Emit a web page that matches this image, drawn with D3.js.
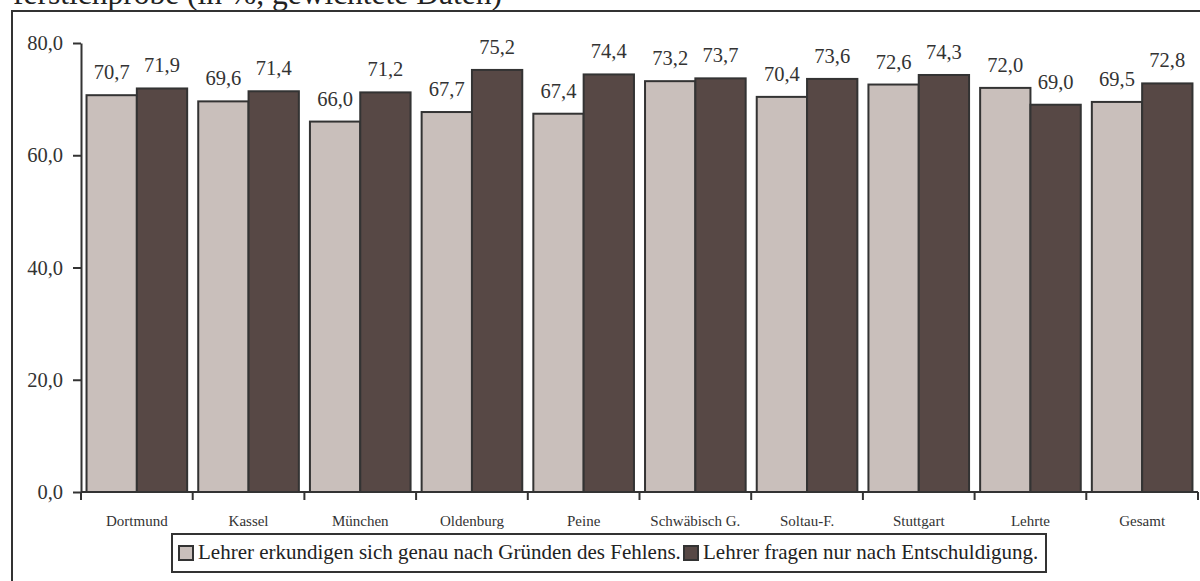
<!DOCTYPE html>
<html><head><meta charset="utf-8">
<script src="https://cdn.jsdelivr.net/npm/d3@7"></script>
<style>body{margin:0;background:#fff;} svg{display:block;}</style>
</head><body>
<svg id="c" width="1200" height="581"></svg>
<script>
const categories = ["Dortmund","Kassel","München","Oldenburg","Peine","Schwäbisch G.","Soltau-F.","Stuttgart","Lehrte","Gesamt"];
const seriesNames = ["Lehrer erkundigen sich genau nach Gründen des Fehlens.","Lehrer fragen nur nach Entschuldigung."];
const seriesA = [70.7,69.6,66.0,67.7,67.4,73.2,70.4,72.6,72.0,69.5];
const seriesB = [71.9,71.4,71.2,75.2,74.4,73.7,73.6,74.3,69.0,72.8];
const yTicks = [0,20,40,60,80];
const titleText = "ferstichprobe (in %, gewichtete Daten)";
const colors = ["#c9bfbb","#574845"];

(function(){
const svg = d3.select("#c");
const font = "'Liberation Serif','Times New Roman',serif";
const ink = "#333";
const fmt = v => d3.format(".1f")(v).replace(".", ",");

// title (cut off at the top, as in the reference)
svg.append("text").attr("x",13).attr("y",4).attr("font-family",font).attr("font-size",31.5)
  .attr("fill","#222").text(titleText);

// frame
svg.append("rect").attr("x",12).attr("y",11).attr("width",1220).attr("height",620)
  .attr("fill","none").attr("stroke",ink).attr("stroke-width",2);

const pL = 81, pR = 1198, pT = 43, pB = 492;
const y = d3.scaleLinear().domain([0,80]).range([pB, pT]);
const x0 = d3.scaleBand().domain(categories).range([pL,pR]).padding(0);
const x1 = d3.scaleBand().domain([0,1]).range([0, x0.bandwidth()]).paddingOuter(0.11).paddingInner(0);

const data = categories.map((c,i)=>({c, vals:[seriesA[i], seriesB[i]]}));

const g = svg.append("g");
const groups = g.selectAll("g.cat").data(data).join("g").attr("class","cat").attr("transform", d=>`translate(${x0(d.c)},0)`);
groups.selectAll("rect").data(d=>d.vals.map((v,k)=>({v,k}))).join("rect")
  .attr("x", d=>x1(d.k)).attr("width", x1.bandwidth())
  .attr("y", d=>y(d.v)).attr("height", d=>y(0)-y(d.v))
  .attr("fill", d=>colors[d.k]).attr("stroke", ink).attr("stroke-width",2);
groups.selectAll("text").data(d=>d.vals.map((v,k)=>({v,k}))).join("text")
  .attr("x", d=>x1(d.k)+x1.bandwidth()/2).attr("y", d=>y(d.v)-16)
  .attr("text-anchor","middle").attr("font-family",font).attr("font-size",20.5).attr("fill",ink)
  .text(d=>fmt(d.v));

// y axis
const ya = svg.append("g").attr("transform",`translate(${pL},0)`)
  .call(d3.axisLeft(y).tickValues(yTicks).tickFormat(fmt).tickSize(8).tickSizeOuter(0).tickPadding(10));
ya.select(".domain").attr("stroke",ink).attr("stroke-width",2);
ya.selectAll(".tick line").attr("stroke",ink).attr("stroke-width",2);
ya.selectAll(".tick text").attr("font-family",font).attr("font-size",20.5).attr("fill",ink);

// x axis
const xa = svg.append("g").attr("transform",`translate(0,${pB})`)
  .call(d3.axisBottom(x0).tickSize(0).tickPadding(23));
xa.select(".domain").attr("stroke",ink).attr("stroke-width",2).attr("d",`M${pL},0H${pR}`);
xa.selectAll(".tick text").attr("font-family",font).attr("font-size",15).attr("fill",ink);
const bounds = categories.map(c=>x0(c)).concat([x0(categories[categories.length-1])+x0.bandwidth()]);
xa.selectAll("line.bt").data(bounds).join("line").attr("class","bt")
  .attr("x1",d=>d).attr("x2",d=>d).attr("y1",0).attr("y2",8).attr("stroke",ink).attr("stroke-width",2);

// legend
const lg = svg.append("g");
lg.append("rect").attr("x",172).attr("y",534).attr("width",874).attr("height",38)
  .attr("fill","#fff").attr("stroke",ink).attr("stroke-width",2);
const legX = [178, 683];
seriesNames.forEach((n,k)=>{
  lg.append("rect").attr("x",legX[k]+1).attr("y",546).attr("width",14).attr("height",14)
    .attr("fill",colors[k]).attr("stroke",ink).attr("stroke-width",2);
  lg.append("text").attr("x",legX[k]+20).attr("y",559).attr("font-family",font).attr("font-size",21)
    .attr("fill","#222").text(n);
});
})();
</script>
</body></html>
